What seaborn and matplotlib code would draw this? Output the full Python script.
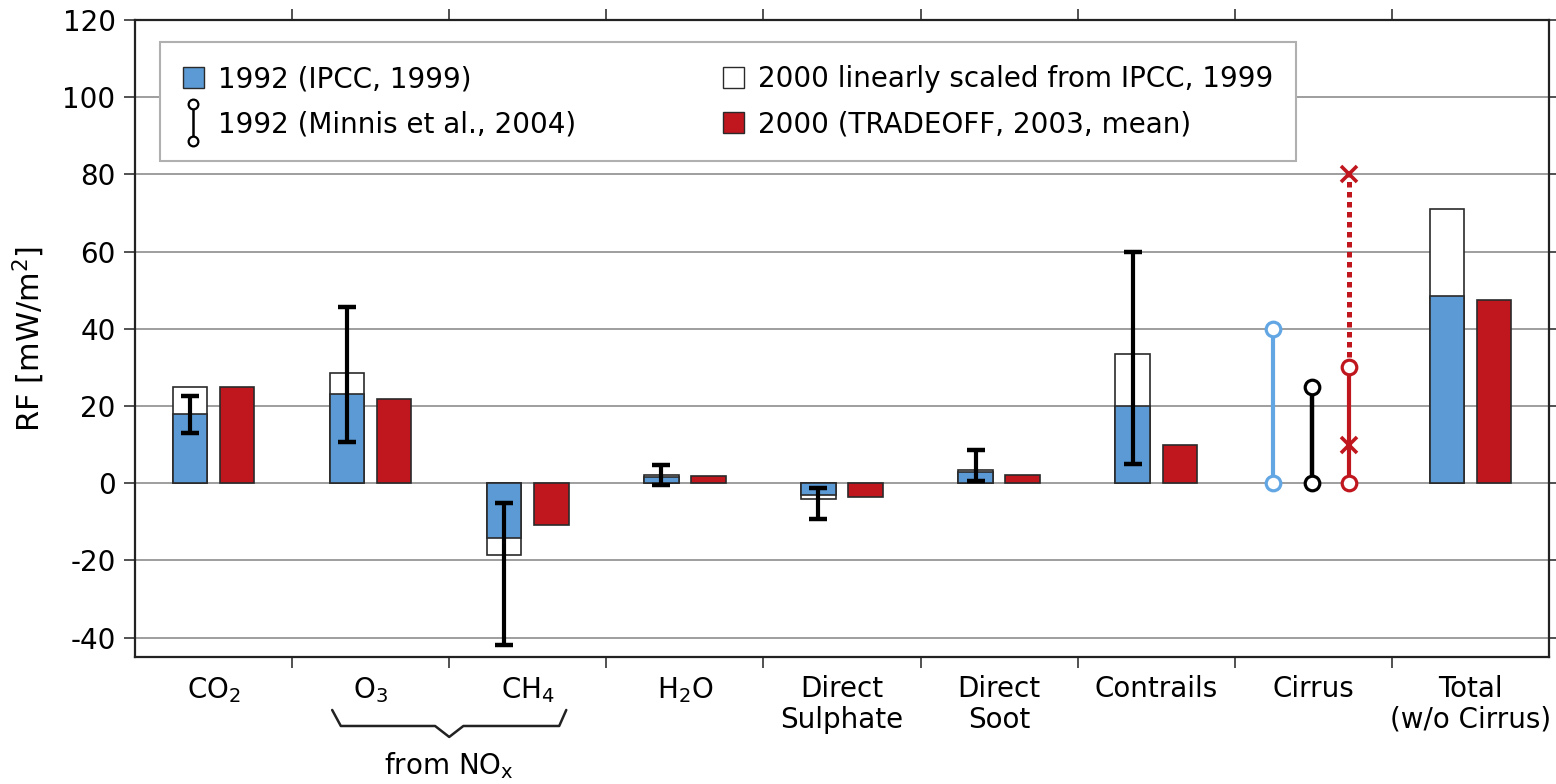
import numpy as np
import pandas as pd
import matplotlib
matplotlib.use("Agg")
import matplotlib.pyplot as plt
import matplotlib.transforms as mtransforms
from matplotlib.lines import Line2D
from matplotlib.patches import Patch
from matplotlib.legend_handler import HandlerBase
import seaborn as sns

# ---------------- data ----------------
categories = ["CO$_2$", "O$_3$", "CH$_4$", "H$_2$O", "Direct\nSulphate",
              "Direct\nSoot", "Contrails", "Cirrus", "Total\n(w/o Cirrus)"]
ipcc_1992 = [18, 23, -14.2, 1.5, -3.0, 2.8, 20, np.nan, 48.5]
scaled_2000 = [25, 28.5, -18.7, 2.1, -4.2, 3.5, 33.5, np.nan, 71]
tradeoff_2000 = [25, 21.7, -10.7, 2.0, -3.6, 2.1, 10, np.nan, 47.5]
minnis_low = [13, 10.6, -42, -0.5, -9.3, 0.5, 5, np.nan, np.nan]
minnis_high = [22.5, 45.7, -5.2, 4.8, -1.3, 8.7, 60, np.nan, np.nan]
cirrus_ipcc_range = [0, 40]
cirrus_minnis_range = [0, 25]
cirrus_tradeoff_range = [0, 30]
cirrus_tradeoff_mean = 10
cirrus_tradeoff_upper = 80
yticks = [-40, -20, 0, 20, 40, 60, 80, 100, 120]

lab_ipcc = "1992 (IPCC, 1999)"
lab_minnis = "1992 (Minnis et al., 2004)"
lab_scaled = "2000 linearly scaled from IPCC, 1999"
lab_trade = "2000 (TRADEOFF, 2003, mean)"

BLUE = "#5b9ad4"
RED = "#c0171f"
LBLUE = "#62a6e3"
EDGE = "#2a2a2a"

# ---------------- style ----------------
sns.set_style("white")
plt.rcParams["font.family"] = ["DejaVu Sans"]
plt.rcParams["mathtext.default"] = "regular"
plt.rcParams["axes.unicode_minus"] = False
for k in ["text.color", "axes.labelcolor", "xtick.color", "ytick.color"]:
    plt.rcParams[k] = "black"

FS = 20

fig = plt.figure(figsize=(15.56, 7.84), dpi=100)
ax = fig.add_axes([135 / 1556, (784 - 657) / 784, (1549 - 135) / 1556, (657 - 20) / 784])

# ---------------- bars ----------------
df_main = pd.DataFrame({
    "cat": categories * 2,
    "val": ipcc_1992 + tradeoff_2000,
    "series": [lab_ipcc] * len(categories) + [lab_trade] * len(categories),
}).dropna()
df_scaled = pd.DataFrame({
    "cat": categories, "val": scaled_2000, "series": [lab_ipcc] * len(categories)
}).dropna()

hue_order = [lab_ipcc, lab_trade]
# white "2000 scaled" bars behind the 1992 bars
sns.barplot(data=df_scaled, x="cat", y="val", hue="series", order=categories,
            hue_order=hue_order, palette={lab_ipcc: "white", lab_trade: "white"},
            width=0.6, gap=0.27, dodge=True, saturation=1, errorbar=None,
            edgecolor=EDGE, linewidth=1.2, legend=False, ax=ax, zorder=2)
sns.barplot(data=df_main, x="cat", y="val", hue="series", order=categories,
            hue_order=hue_order, palette={lab_ipcc: BLUE, lab_trade: RED},
            width=0.6, gap=0.27, dodge=True, saturation=1, errorbar=None,
            edgecolor=EDGE, linewidth=1.2, legend=False, ax=ax, zorder=3)

# ---------------- Minnis error bars ----------------
xpos = np.arange(len(categories))
lo = np.array(minnis_low, dtype=float)
hi = np.array(minnis_high, dtype=float)
mid = (lo + hi) / 2
ax.errorbar(xpos - 0.15, mid, yerr=[mid - lo, hi - mid], fmt="none", ecolor="black",
            elinewidth=3, capsize=6.5, capthick=3.2, zorder=5)

# ---------------- Cirrus ranges ----------------
ci = categories.index("Cirrus")
ax.plot([ci - 0.255] * 2, cirrus_ipcc_range, color=LBLUE, lw=3, marker="o", ms=10.5,
        mfc="white", mec=LBLUE, mew=2.3, zorder=6)
ax.plot([ci - 0.01] * 2, cirrus_minnis_range, color="black", lw=3.2, marker="o", ms=10.5,
        mfc="white", mec="black", mew=2.3, zorder=6)
ax.plot([ci + 0.23] * 2, [cirrus_tradeoff_range[1], cirrus_tradeoff_upper], color=RED,
        lw=3.6, ls=(0, (1.1, 0.9)), zorder=5)
ax.plot([ci + 0.23] * 2, cirrus_tradeoff_range, color=RED, lw=3, marker="o", ms=10.5,
        mfc="white", mec=RED, mew=2.3, zorder=6)
ax.plot([ci + 0.23] * 2, [cirrus_tradeoff_mean, cirrus_tradeoff_upper], ls="none",
        marker="x", ms=11, mew=2.6, color=RED, zorder=7)

# ---------------- axes ----------------
ax.set_xlim(-0.5, len(categories) - 0.5)
ax.set_ylim(-45, 120)
ax.set_yticks(yticks)
ax.set_yticklabels([str(v) for v in yticks])
ax.set_xticks(xpos)
ax.set_xticklabels(categories, fontsize=FS, linespacing=1.12)
ax.set_xticks(np.arange(len(categories) - 1) + 0.5, minor=True)
ax.tick_params(axis="x", which="major", length=0, pad=13, bottom=True, top=False)
ax.tick_params(axis="x", which="minor", length=8, width=1.2, bottom=True, top=True,
               direction="out", color="#333")
ax.tick_params(axis="y", which="major", length=8, width=1.2, left=True, right=True,
               direction="out", labelsize=FS, pad=6, color="#333")
ax.set_xlabel("")
ax.set_ylabel("RF [mW/m$^2$]", fontsize=22, labelpad=11)
ax.yaxis.grid(True, color="#8e8e8e", lw=1.2)
ax.xaxis.grid(False)
ax.set_axisbelow(True)
for s in ax.spines.values():
    s.set_visible(True)
    s.set_color("#222")
    s.set_linewidth(1.6)

# ---------------- brace "from NOx" ----------------
i_o3 = categories.index("O$_3$")
i_ch4 = categories.index("CH$_4$")
bt = mtransforms.blended_transform_factory(ax.transData, fig.transFigure)
cx = (i_o3 + i_ch4) / 2
bx = [i_o3 - 0.245, i_o3 - 0.19, cx - 0.09, cx, cx + 0.09, i_ch4 + 0.2, i_ch4 + 0.245]
by = [0.0944, 0.074, 0.074, 0.060, 0.074, 0.074, 0.0944]
ax.plot(bx, by, color="#222", lw=1.8, transform=bt, clip_on=False)
ax.text(cx, 0.024, "from NO$_x$", transform=bt, ha="center", va="center", fontsize=FS)

# ---------------- legend ----------------
class HandlerMinnis(HandlerBase):
    def create_artists(self, legend, orig_handle, xdescent, ydescent, width, height,
                       fontsize, trans):
        x = width / 2 - xdescent
        y0 = -ydescent - 0.4 * height
        y1 = height - ydescent + 0.4 * height
        ln = Line2D([x, x], [y0, y1], color="black", lw=1.8, marker="o", ms=7,
                    mfc="white", mec="black", mew=1.6, transform=trans)
        return [ln]

minnis_handle = Line2D([], [], color="black")
handles = [Patch(facecolor=BLUE, edgecolor=EDGE, lw=1.0), minnis_handle,
           Patch(facecolor="white", edgecolor=EDGE, lw=1.0),
           Patch(facecolor=RED, edgecolor=EDGE, lw=1.0)]
labels = [lab_ipcc, lab_minnis, lab_scaled, lab_trade]
leg = ax.legend(handles, labels, ncol=2, loc="upper left",
                bbox_to_anchor=(0.0177, 0.965), borderaxespad=0, fontsize=FS,
                frameon=True, fancybox=False, framealpha=1, edgecolor="#b0b0b0",
                handlelength=0.75, handleheight=0.75, handletextpad=0.5,
                labelspacing=0.62, columnspacing=5.3, borderpad=0.82,
                handler_map={minnis_handle: HandlerMinnis()})
leg.get_frame().set_linewidth(1.5)
leg.set_zorder(10)

fig.savefig("out.png", dpi=100, facecolor="white")
